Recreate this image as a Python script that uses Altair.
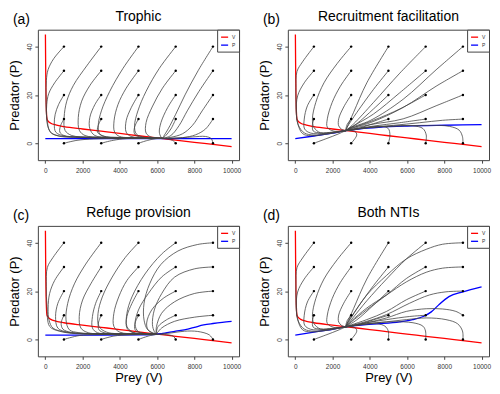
import altair as alt
import pandas as pd

FONT = "Liberation Sans"

TITLES = ["Trophic", "Recruitment facilitation", "Refuge provision", "Both NTIs"]
TAGS = ["(a)", "(b)", "(c)", "(d)"]
START_V = [1000, 3000, 5000, 7000, 9000]
START_P = [0, 10, 20, 30, 40]
X_TICKS = [0, 2000, 4000, 6000, 8000, 10000]
Y_TICKS = [0, 10, 20, 30, 40]

# prey (V) nullcline - identical in all panels
RED = [(5, 45), (15, 35), (25, 26), (40, 18), (60, 13), (90, 10.0), (150, 9.2), (270, 8.4),
       (600, 7.5), (1000, 6.9), (2000, 5.9), (3000, 5.0), (4000, 4.1), (5000, 3.1),
       (6000, 2.2), (7000, 1.3), (8000, 0.4), (9000, -0.5), (10000, -1.4)]

# predator (P) nullclines
BLUE_A = [(0, 1.95), (5000, 1.95), (10000, 1.95)]
BLUE_B = [(0, 1.9), (1000, 3.0), (2000, 4.2), (2700, 5.2), (3500, 6.0), (4500, 6.6),
          (6000, 7.1), (8000, 7.45), (10000, 7.7)]
BLUE_C = [(0, 1.8), (3000, 1.8), (5000, 1.85), (5800, 2.0), (6300, 2.5), (7000, 3.4),
          (7650, 4.3), (8000, 5.0), (8500, 6.0), (9000, 6.6), (9500, 7.1), (10000, 7.5)]
BLUE_D = [(0, 1.8), (1000, 3.0), (2000, 4.2), (2700, 5.2), (3800, 6.1), (4500, 6.5),
          (5600, 7.3), (6300, 8.2), (6900, 9.6), (7300, 11.4), (7700, 14.3), (8250, 17.7),
          (9000, 19.7), (10000, 21.8)]

TRAJ_A = [
    [(1000, 40), (450, 35), (150, 30.5), (55, 26), (35, 20), (45, 14), (90, 10), (260, 4.8), (700, 3.0), (1500, 2.5), (3500, 2.25), (6300, 2.0)],
    [(1000, 30), (500, 25), (180, 20.5), (75, 16), (65, 11), (130, 7), (320, 4.2), (750, 3.0), (1600, 2.5), (3600, 2.25), (6300, 2.0)],
    [(1000, 20), (710, 16), (530, 12), (480, 8), (560, 4.6), (1000, 3.0), (2000, 2.5), (4000, 2.2), (6300, 2.0)],
    [(1000, 10), (820, 7.3), (780, 4.6), (1000, 3.2), (1800, 2.6), (4000, 2.2), (6300, 2.0)],
    [(1000, 0), (1700, 1.2), (2600, 1.8), (4000, 2.0), (6300, 2.0)],
    [(3000, 40), (2220, 32), (1510, 24), (1150, 17.4), (1010, 10.7), (1060, 5.3), (1420, 3.2), (2500, 2.5), (4500, 2.2), (6300, 2.0)],
    [(3000, 30), (2400, 24), (1950, 17.4), (1770, 10.7), (1830, 5.3), (2130, 3.2), (3000, 2.5), (4800, 2.2), (6300, 2.0)],
    [(3000, 20), (2660, 16), (2390, 10.7), (2390, 6), (2660, 3.2), (3500, 2.4), (6300, 2.0)],
    [(3000, 10), (2840, 7.3), (2800, 4.6), (3100, 3.0), (4000, 2.4), (6300, 2.0)],
    [(3000, 0), (3640, 1.2), (4340, 1.9), (6300, 2.0)],
    [(5000, 40), (4170, 31), (3460, 21.5), (3010, 13.4), (2840, 7.3), (2920, 3.9), (3280, 2.6), (4500, 2.3), (6300, 2.0)],
    [(5000, 30), (4340, 22.8), (3900, 16), (3690, 9.3), (3720, 4.6), (3990, 2.8), (5000, 2.3), (6300, 2.0)],
    [(5000, 20), (4610, 14.7), (4340, 9.3), (4340, 4.6), (4610, 2.8), (5400, 2.3), (6300, 2.0)],
    [(5000, 10), (4790, 6.6), (4790, 3.9), (5050, 2.6), (6300, 2.0)],
    [(5000, 0), (5500, 1.2), (5940, 1.9), (6300, 2.0)],
    [(7000, 40), (6120, 31), (5410, 21.5), (4970, 13.4), (4790, 7.3), (4880, 3.9), (5230, 2.6), (6300, 2.0)],
    [(7000, 30), (6290, 22.8), (5760, 15.4), (5410, 8.6), (5410, 4.2), (5670, 2.6), (6300, 2.0)],
    [(7000, 20), (6560, 14.7), (6210, 8.6), (6120, 4.6), (6210, 2.6), (6300, 2.0)],
    [(7000, 10), (6740, 5.9), (6470, 3.2), (6300, 2.0)],
    [(7000, 0), (6830, 1.2), (6470, 1.9), (6300, 2.0)],
    [(9000, 40), (8200, 30), (7500, 20), (7000, 12), (6600, 6), (6350, 2.8), (6300, 2.0)],
    [(9000, 30), (8250, 21.5), (7620, 13.4), (7180, 7.3), (6740, 3.2), (6300, 2.0)],
    [(9000, 20), (8420, 13.4), (7890, 7.3), (7360, 3.9), (6700, 2.4), (6300, 2.0)],
    [(9000, 10), (8600, 5.9), (8070, 3.5), (7360, 2.3), (6300, 2.0)],
    [(9000, 0), (8910, 1.9), (8600, 2.8), (7890, 2.6), (6830, 2.1), (6300, 2.0)],
]

TRAJ_B = [
    [(1000, 40), (390, 33.7), (90, 29.7), (35, 23), (40, 16), (120, 8.5), (390, 4.0), (830, 3.1), (1700, 3.8), (2700, 5.2)],
    [(1000, 30), (480, 25), (125, 19.6), (55, 13), (160, 7.6), (480, 4.3), (1000, 3.4), (1800, 4.0), (2700, 5.2)],
    [(1000, 20), (650, 15.5), (480, 10), (500, 5.9), (830, 4.2), (1600, 4.1), (2700, 5.2)],
    [(1000, 10), (920, 7.7), (970, 5.0), (1360, 4.3), (2000, 4.6), (2700, 5.2)],
    [(1000, 0), (1700, 2.0), (2300, 3.8), (2700, 5.2)],
    [(3000, 40), (2250, 33), (1540, 25), (1100, 16.9), (920, 10.1), (1000, 6.6), (1360, 4.3), (2000, 4.5), (2700, 5.2)],
    [(3000, 30), (2420, 23.6), (1980, 16.9), (1720, 10.1), (1720, 6.6), (2070, 5.0), (2700, 5.2)],
    [(3000, 20), (2600, 15), (2330, 10.1), (2330, 7.2), (2500, 5.7), (2700, 5.2)],
    [(3000, 10), (2780, 7.7), (2700, 5.2)],
    [(3000, 0), (3300, 3.4), (3200, 4.9), (2700, 5.2)],
    [(5000, 40), (3840, 25), (3130, 12.8), (2780, 6.6), (2700, 5.2)],
    [(5000, 30), (4200, 22.3), (3310, 12.8), (2780, 6.6), (2700, 5.2)],
    [(5000, 20), (4200, 14.2), (3300, 8.1), (2700, 5.2)],
    [(5000, 10), (4200, 8.1), (3300, 6.0), (2700, 5.2)],
    [(5000, 0), (5080, 3.4), (4990, 6.1), (4620, 7.0), (3840, 6.5), (3200, 5.8), (2700, 5.2)],
    [(7000, 40), (5610, 29), (4200, 16.9), (3130, 8.0), (2700, 5.2)],
    [(7000, 30), (5610, 20.9), (4200, 12.1), (3130, 7.2), (2700, 5.2)],
    [(7000, 20), (5610, 14.2), (4200, 9.5), (3130, 6.5), (2700, 5.2)],
    [(7000, 10), (5610, 8.5), (4200, 7.1), (3130, 5.8), (2700, 5.2)],
    [(7000, 0), (7030, 3.4), (6850, 6.1), (6320, 7.2), (4900, 7.0), (3600, 6.2), (2700, 5.2)],
    [(9000, 40), (7560, 30.4), (5790, 18.2), (4020, 9.4), (2880, 6.2), (2700, 5.2)],
    [(9000, 30), (7560, 23.6), (5790, 14.8), (4020, 8.5), (2900, 6.0), (2700, 5.2)],
    [(9000, 20), (7560, 15.5), (5790, 10.1), (4020, 7.7), (2900, 5.7), (2700, 5.2)],
    [(9000, 10), (7910, 9.5), (6680, 8.5), (5260, 7.4), (4020, 6.6), (2700, 5.2)],
    [(9000, 0), (8975, 2.7), (8800, 5.4), (8270, 7.0), (7200, 7.4), (5500, 7.1), (4000, 6.5), (2700, 5.2)],
]

TRAJ_C = [
    [(1000, 40), (410, 33.9), (110, 29.8), (50, 22), (90, 13.6), (230, 5.4), (760, 3.4), (1640, 2.4), (3500, 2.2), (5950, 2.1)],
    [(1000, 30), (500, 24.4), (230, 19), (150, 13), (200, 8), (410, 4.7), (1110, 3.0), (2000, 2.4), (4000, 2.2), (5950, 2.1)],
    [(1000, 20), (670, 14.9), (550, 9.5), (670, 4.7), (1200, 3.0), (2200, 2.4), (5950, 2.1)],
    [(1000, 10), (850, 6.8), (940, 4.3), (1400, 2.9), (2500, 2.4), (5950, 2.1)],
    [(1000, 0), (1820, 1.6), (2800, 2.0), (5950, 2.1)],
    [(3000, 40), (2170, 31.2), (1560, 23), (1200, 14.9), (1110, 8.1), (1290, 4.0), (1800, 2.8), (3000, 2.3), (5950, 2.1)],
    [(3000, 30), (2440, 23), (2000, 16.3), (1820, 9.5), (1910, 4.7), (2300, 2.8), (3500, 2.3), (5950, 2.1)],
    [(3000, 20), (2700, 14.9), (2530, 9.5), (2530, 4.7), (2800, 2.8), (4000, 2.3), (5950, 2.1)],
    [(3000, 10), (2850, 6.8), (2880, 4.0), (3200, 2.7), (4300, 2.3), (5950, 2.1)],
    [(3000, 0), (3680, 1.4), (4500, 1.9), (5950, 2.1)],
    [(5000, 40), (4290, 33.9), (3590, 25.8), (3060, 17.6), (2830, 10.8), (2880, 5.4), (3300, 3.0), (4500, 2.3), (5950, 2.1)],
    [(5000, 30), (4380, 24.4), (3940, 17.6), (3680, 10.8), (3680, 5.4), (4000, 3.0), (5000, 2.3), (5950, 2.1)],
    [(5000, 20), (4650, 14.9), (4380, 9.5), (4380, 4.7), (4700, 2.8), (5950, 2.1)],
    [(5000, 10), (4820, 6.8), (4820, 4.0), (5100, 2.7), (5950, 2.1)],
    [(5000, 0), (5530, 1.4), (5950, 2.1)],
    [(7000, 40), (6240, 35.3), (5350, 27.1), (4650, 17.6), (4380, 10.8), (4380, 5.4), (4700, 3.0), (5950, 2.1)],
    [(7000, 30), (6240, 25.8), (5530, 19), (5000, 12.2), (4820, 6.1), (5000, 3.2), (5950, 2.1)],
    [(7000, 20), (6330, 17), (5710, 12.2), (5440, 6.8), (5530, 3.8), (5950, 2.1)],
    [(7000, 10), (6500, 8.1), (6060, 5.4), (5970, 3.4), (5950, 2.1)],
    [(7000, 0), (6860, 1.4), (6400, 2.0), (5950, 2.1)],
    [(9000, 40), (8180, 39.3), (7120, 36.6), (6200, 31), (5600, 23), (5300, 15), (5300, 8), (5500, 4), (5950, 2.1)],
    [(9000, 30), (8000, 29.2), (6940, 25.8), (6250, 19), (5850, 12.2), (5750, 6.1), (5850, 3.3), (5950, 2.1)],
    [(9000, 20), (8000, 19), (6940, 15.6), (6240, 10.8), (5970, 5.4), (5950, 2.1)],
    [(9000, 10), (8000, 9.2), (6940, 7.5), (6240, 4.7), (5950, 2.1)],
    [(9000, 0), (8800, 1.9), (8180, 3.3), (7470, 3.4), (6770, 2.7), (6060, 2.15), (5950, 2.1)],
]

TRAJ_D = [
    [(1000, 40), (390, 33.7), (90, 29.7), (35, 23), (40, 16), (120, 8.5), (390, 4.0), (830, 3.1), (1700, 3.8), (2700, 5.2)],
    [(1000, 30), (480, 25), (125, 19.6), (55, 13), (160, 7.6), (480, 4.3), (1000, 3.4), (1800, 4.0), (2700, 5.2)],
    [(1000, 20), (650, 15.5), (480, 10), (500, 5.9), (830, 4.2), (1600, 4.1), (2700, 5.2)],
    [(1000, 10), (920, 7.7), (970, 5.0), (1360, 4.3), (2000, 4.6), (2700, 5.2)],
    [(1000, 0), (1700, 2.0), (2300, 3.8), (2700, 5.2)],
    [(3000, 40), (2250, 33), (1540, 25), (1100, 16.9), (920, 10.1), (1000, 6.6), (1360, 4.3), (2000, 4.5), (2700, 5.2)],
    [(3000, 30), (2420, 23.6), (1980, 16.9), (1720, 10.1), (1720, 6.6), (2070, 5.0), (2700, 5.2)],
    [(3000, 20), (2600, 15), (2330, 10.1), (2330, 7.2), (2500, 5.7), (2700, 5.2)],
    [(3000, 10), (2780, 7.7), (2700, 5.2)],
    [(3000, 0), (3300, 3.4), (3200, 4.9), (2700, 5.2)],
    [(5000, 40), (3840, 25), (3130, 12.8), (2780, 6.6), (2700, 5.2)],
    [(5000, 30), (4200, 22.3), (3310, 12.8), (2780, 6.6), (2700, 5.2)],
    [(5000, 20), (4200, 14.2), (3300, 8.1), (2700, 5.2)],
    [(5000, 10), (4200, 8.1), (3300, 6.0), (2700, 5.2)],
    [(5000, 0), (4990, 3.5), (4810, 5.5), (4370, 6.5), (3600, 6.1), (2700, 5.2)],
    [(7000, 40), (5960, 33.3), (4900, 25), (3840, 16), (3100, 9), (2700, 5.2)],
    [(7000, 30), (5960, 25.2), (4900, 18.4), (3840, 12.3), (3000, 7.2), (2700, 5.2)],
    [(7000, 20), (5960, 16.4), (4900, 11.6), (3840, 8.2), (3000, 6.0), (2700, 5.2)],
    [(7000, 10), (6140, 9.5), (4900, 8.2), (3840, 6.9), (2700, 5.2)],
    [(7000, 0), (6990, 3.5), (6850, 5.5), (6320, 6.9), (5250, 7.3), (4000, 6.6), (2700, 5.2)],
    [(9000, 40), (7910, 39.4), (7030, 37.3), (5960, 33.3), (4900, 26.5), (3840, 18.4), (3000, 9), (2700, 5.2)],
    [(9000, 30), (7910, 29.5), (7030, 27.8), (5960, 23.8), (4900, 18.4), (3840, 13), (3000, 7.5), (2700, 5.2)],
    [(9000, 20), (8090, 19.7), (7200, 18.4), (6140, 15), (4900, 10.3), (3840, 7.5), (2700, 5.2)],
    [(9000, 10), (8620, 11.6), (7910, 12.6), (7030, 12.7), (5960, 11.6), (4900, 8.9), (3840, 6.9), (2700, 5.2)],
    [(9000, 0), (8975, 3.5), (8710, 6.5), (8090, 8.2), (7030, 8.9), (5960, 8.2), (4900, 7.3), (3840, 6.5), (2700, 5.2)],
]

BLUES = [BLUE_A, BLUE_B, BLUE_C, BLUE_D]
TRAJS = [TRAJ_A, TRAJ_B, TRAJ_C, TRAJ_D]

X_SCALE = alt.Scale(domain=[-400, 10400], nice=False, zero=False)
Y_SCALE = alt.Scale(domain=[-7, 47], nice=False, zero=False)
AX_COL = "#444444"
PW, PH = 202, 131


def panel(i, bottom):
    ndf = pd.DataFrame(
        [dict(series="V", seq=k, V=v, P=p) for k, (v, p) in enumerate(RED)]
        + [dict(series="P", seq=k, V=v, P=p) for k, (v, p) in enumerate(BLUES[i])]
    )
    tdf = pd.DataFrame(
        [dict(tid=j, seq=k, V=v, P=p)
         for j, path in enumerate(TRAJS[i]) for k, (v, p) in enumerate(path)]
    )
    sdf = pd.DataFrame([dict(V=v, P=p) for v in START_V for p in START_P])
    heads = pd.DataFrame({"tag": [TAGS[i]], "title": [TITLES[i]]})

    xax = alt.Axis(values=X_TICKS, format="d", grid=False, domain=False,
                   tickSize=3, tickColor=AX_COL, labelFontSize=6.5, labelColor="#333333",
                   labelPadding=4, labelFlush=False, labelOverlap=False,
                   titleFontSize=13, titleFontWeight="normal", titlePadding=2,
                   titleColor="black")
    yax = alt.Axis(values=Y_TICKS, grid=False, domain=False, tickSize=3, tickColor=AX_COL,
                   labelFontSize=6.5, labelColor="#333333", labelAngle=270,
                   labelAlign="center", labelBaseline="bottom", labelPadding=2,
                   titleFontSize=13, titleFontWeight="normal", titlePadding=5,
                   titleColor="black")

    xenc = alt.X("V:Q", scale=X_SCALE, axis=xax, title="Prey (V)" if bottom else None)
    yenc = alt.Y("P:Q", scale=Y_SCALE, axis=yax, title="Predator (P)")

    nulls = alt.Chart(ndf).mark_line(interpolate="monotone", strokeWidth=1.3).encode(
        x=xenc, y=yenc,
        color=alt.Color("series:N",
                        scale=alt.Scale(domain=["V", "P"], range=["#ff0000", "#0000ff"]),
                        legend=alt.Legend(title=None, orient="top-right", offset=0,
                                          padding=3, strokeColor=AX_COL, fillColor="white",
                                          labelFontSize=5, labelColor="#333333",
                                          symbolType="stroke", symbolSize=50,
                                          symbolStrokeWidth=1.3, rowPadding=0,
                                          labelOffset=3)),
        order="seq:Q",
    )
    traj = alt.Chart(tdf).mark_line(interpolate="catmull-rom", color="#444444",
                                    strokeWidth=0.8).encode(
        x="V:Q", y="P:Q", detail="tid:N", order="seq:Q"
    )
    dots = alt.Chart(sdf).mark_circle(size=6, color="black", opacity=1).encode(
        x="V:Q", y="P:Q"
    )
    tag = alt.Chart(heads).mark_text(align="left", baseline="middle", fontSize=14,
                                     font=FONT, color="black").encode(
        x=alt.value(-25), y=alt.value(-10), text="tag:N"
    )
    title = alt.Chart(heads).mark_text(align="center", baseline="middle", fontSize=14,
                                       font=FONT, color="black").encode(
        x=alt.value(PW / 2), y=alt.value(-13), text="title:N"
    )
    return alt.layer(nulls, traj, dots, tag, title).properties(width=PW, height=PH)


chart = alt.concat(
    panel(0, False), panel(1, False), panel(2, True), panel(3, True),
    columns=2, spacing={"row": 66, "column": 49}, bounds="flush",
).resolve_scale(color="independent").resolve_legend(color="independent").properties(
    padding=0
).configure(font=FONT).configure_view(stroke=AX_COL, strokeWidth=1)

chart.save("out.html", embed_options={"renderer": "svg", "actions": False})
